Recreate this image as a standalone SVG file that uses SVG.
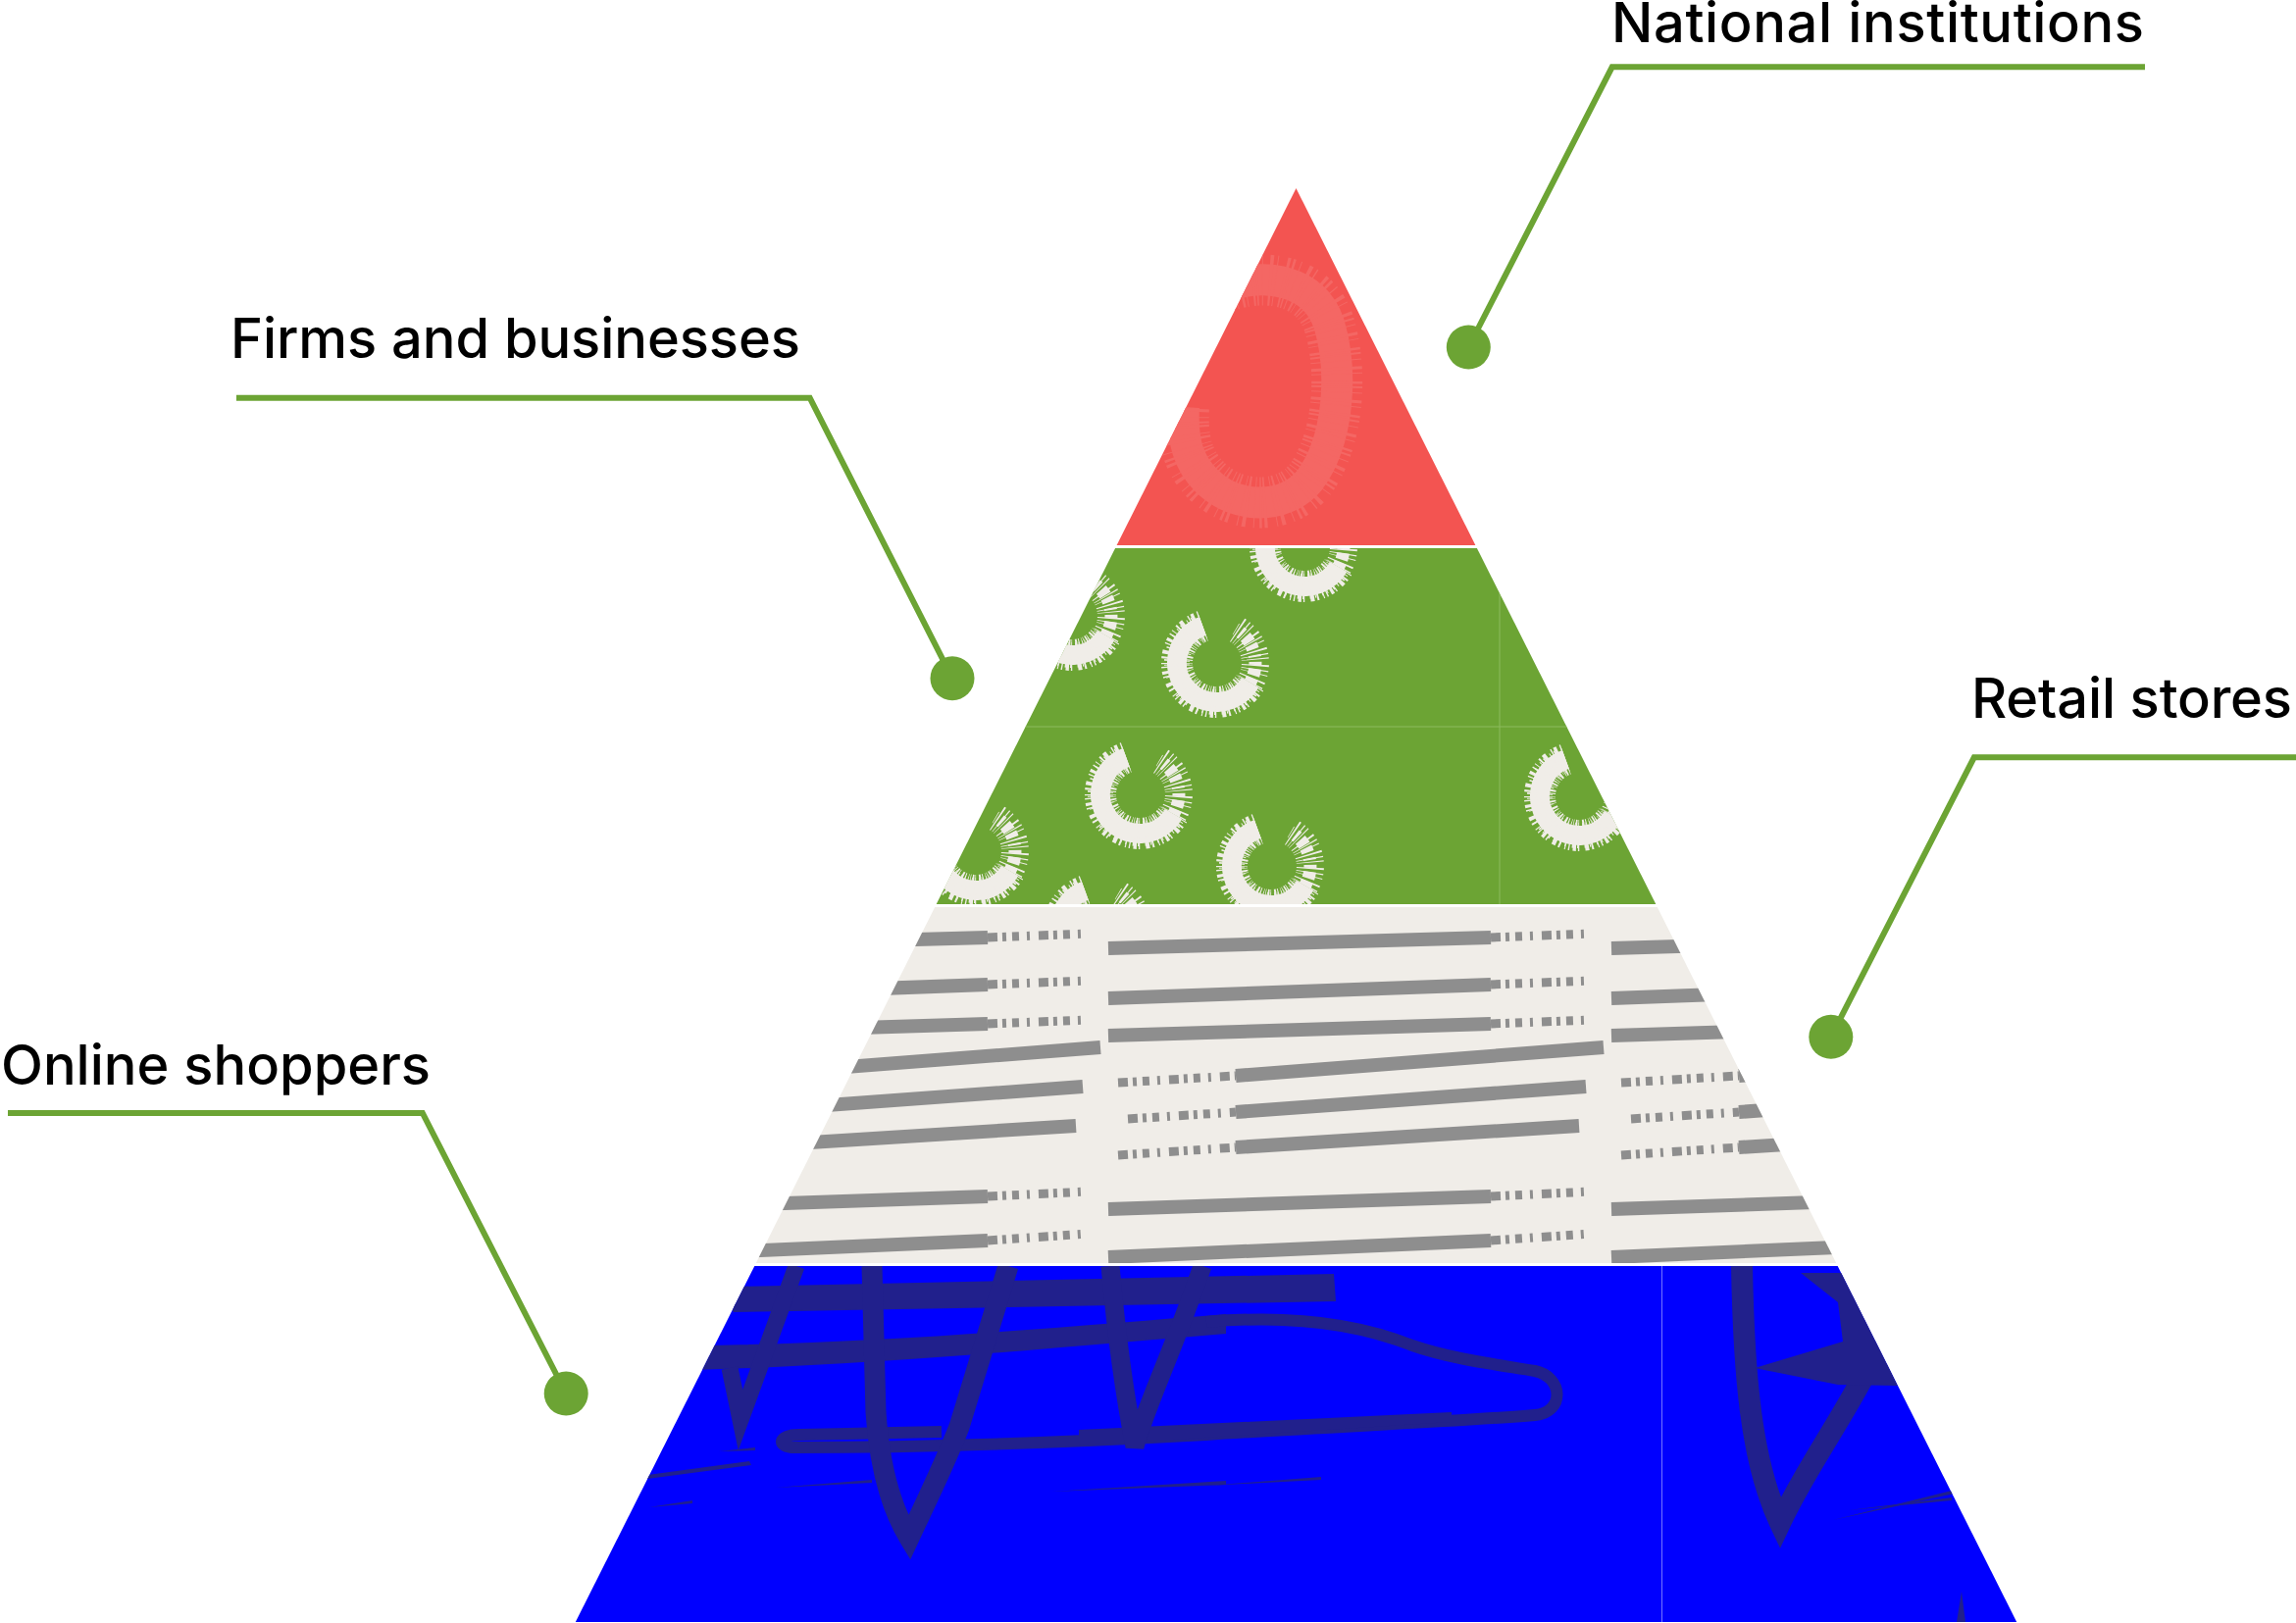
<svg xmlns="http://www.w3.org/2000/svg" xmlns:xlink="http://www.w3.org/1999/xlink" width="2341" height="1655" viewBox="0 0 2341 1655">
<style>
.lbl{font-family:Inter,"Liberation Sans",Arial,sans-serif;font-size:56px;font-weight:500;fill:#000}
.conn{fill:none;stroke:#6CA434;stroke-width:6;stroke-linejoin:miter}
.dot{fill:#6CA434}
.st{fill:none;stroke:#8E8E8E;stroke-width:14}
.sd{fill:none;stroke:#8E8E8E;stroke-width:9;stroke-dasharray:10 5 4 6 7 8 3 9}
.rg{fill:none;stroke:#F0EDE8}
.nv{fill:none;stroke:#21208C;stroke-linejoin:miter}
.nf{fill:#21208C}
</style>
<defs>
<clipPath id="c1"><polygon points="1321.5,192 1504.4,556 1138.6,556"/></clipPath>
<clipPath id="c2"><polygon points="1137.1,559 1505.9,559 1688.3,922 954.7,922"/></clipPath>
<clipPath id="c3"><polygon points="953.2,925 1689.8,925 1872.2,1288 770.8,1288"/></clipPath>
<clipPath id="c4"><polygon points="769.3,1291 1873.7,1291 2056.2,1654 586.8,1654"/></clipPath>
<g id="ring">
<path class="rg" stroke-width="20" d="M -13.7 -37.6 A 40 40 0 1 0 34.6 20"/>
<path class="rg" stroke-width="32" stroke-dasharray="1 2.5 2.5 1.5 1 4.5 3 2 1.5 3.5 0.8 2" d="M -13.7 -37.6 A 40 40 0 1 0 34.6 20"/>
<path class="rg" stroke-width="26" stroke-dasharray="0.8 5 1.2 3" d="M -13.7 -37.6 A 40 40 0 1 0 34.6 20"/>
<path class="rg" stroke-width="13" stroke-dasharray="5 3 7 4 3 5 2 6" d="M 34.6 20 A 40 40 0 0 0 20 -34.6"/>
<path class="rg" stroke-width="28" stroke-dasharray="1 3 1.5 5 0.8 2.5" d="M 34.6 20 A 40 40 0 0 0 20 -34.6"/>
</g>
<g id="tile">
<path class="st" d="M0,967 L390,956"/><path class="sd" d="M390,956 L493,952"/>
<path class="st" d="M0,1018 L390,1004"/><path class="sd" d="M390,1004 L493,1000"/>
<path class="st" d="M0,1056 L390,1044"/><path class="sd" d="M390,1044 L493,1040"/>
<path class="sd" d="M10,1104 L130,1097"/><path class="st" d="M130,1097 L505,1068"/>
<path class="sd" d="M20,1141 L130,1134"/><path class="st" d="M130,1134 L487,1108"/>
<path class="sd" d="M10,1178 L130,1170"/><path class="st" d="M130,1170 L480,1148"/>
<path class="st" d="M0,1233 L390,1220"/><path class="sd" d="M390,1220 L492,1215"/>
<path class="st" d="M0,1282 L390,1265"/><path class="sd" d="M390,1265 L492,1258"/>
</g>
</defs>
<rect width="2341" height="1655" fill="#FFFFFF"/>

<g id="tier-national">
<polygon points="1321.5,192 1504.4,556 1138.6,556" fill="#F35451"/>
<g clip-path="url(#c1)">
<path d="M1250,292 C1290,278 1340,285 1355,330 C1370,380 1365,450 1335,490 C1310,520 1260,520 1230,490 C1212,472 1205,450 1207,415" fill="none" stroke="#F46764" stroke-width="32"/>
<path d="M1250,292 C1290,278 1340,285 1355,330 C1370,380 1365,450 1335,490 C1310,520 1260,520 1230,490 C1212,472 1205,450 1207,415" fill="none" stroke="#F46764" stroke-width="52" stroke-dasharray="2 4 1 6 3 3 1 7 2.5 2"/>
</g>
</g>

<g id="tier-firms">
<polygon points="1137.1,559 1505.9,559 1688.3,922 954.7,922" fill="#6CA434"/>
<g clip-path="url(#c2)">
<use xlink:href="#ring" href="#ring" transform="translate(1330,558)"/>
<use xlink:href="#ring" href="#ring" transform="translate(1093,628)"/>
<use xlink:href="#ring" href="#ring" transform="translate(1240,676)"/>
<use xlink:href="#ring" href="#ring" transform="translate(1162,810)"/>
<use xlink:href="#ring" href="#ring" transform="translate(995,868)"/>
<use xlink:href="#ring" href="#ring" transform="translate(1296,883)"/>
<use xlink:href="#ring" href="#ring" transform="translate(1120,946)"/>
<use xlink:href="#ring" href="#ring" transform="translate(1610,812)"/>
<line x1="1529" y1="559" x2="1529" y2="922" stroke="#8DBB5F" stroke-width="1"/>
<line x1="900" y1="741" x2="1700" y2="741" stroke="#8DBB5F" stroke-width="1"/>
</g>
</g>

<g id="tier-retail">
<polygon points="953.2,925 1689.8,925 1872.2,1288 770.8,1288" fill="#F0EDE8"/>
<g clip-path="url(#c3)">
<use xlink:href="#tile" href="#tile" x="617"/>
<use xlink:href="#tile" href="#tile" x="1130"/>
<use xlink:href="#tile" href="#tile" x="1643"/>
</g>
</g>

<g id="tier-online">
<polygon points="769.3,1291 1873.7,1291 2056.2,1654 586.8,1654" fill="#0000FF"/>
<g clip-path="url(#c4)">
<path class="nf" d="M745,1312 L1360,1299 L1362,1327 L748,1338 L738,1326 Z"/>
<path class="nf" d="M706,1372 C900,1370 1100,1352 1250,1340 L1250,1360 C1100,1372 900,1392 706,1397 Z"/>
<path class="nv" stroke-width="12" d="M1230,1348 C1320,1340 1390,1352 1440,1372 C1480,1386 1530,1392 1565,1398 C1594,1404 1596,1440 1565,1443 C1480,1450 1350,1455 1230,1463 C1050,1473 900,1476 810,1476 C792,1476 792,1463 815,1463 L960,1460"/>
<path class="nf" d="M1100,1458 L1480,1440 L1480,1450 L1100,1474 Z"/>
<path class="nv" stroke-width="17" d="M812,1291 L755,1448 L744,1395"/>
<path class="nv" stroke-width="21" d="M889,1291 L893,1440 C897,1500 910,1540 927,1568 C940,1540 960,1500 978,1455 L1028,1291"/>
<path class="nv" stroke-width="19" d="M1132,1291 C1140,1380 1148,1430 1157,1475 C1170,1430 1195,1380 1226,1291"/>
<path class="nv" stroke-width="22" d="M1776,1291 C1778,1400 1785,1490 1815,1553 C1840,1500 1870,1460 1902,1400"/>
<path class="nf" d="M1836,1298 L1880,1298 L1935,1413 L1874,1412 L1789,1395 L1879,1368 L1874,1328 Z"/>
<g class="nf">
<path d="M653,1505 L764,1490 L766,1494 L660,1508 Z"/>
<path d="M733,1480 L770,1476 L770,1479 Z"/>
<path d="M791,1517 L889,1509 L889,1512 Z"/>
<path d="M1072,1521 L1250,1510 L1250,1514 Z"/>
<path d="M662,1537 L706,1530 L706,1533 Z"/>
<path d="M1230,1515 L1347,1506 L1347,1509 Z"/>
<path d="M1869,1550 L2002,1517 L2002,1521 Z"/>
<path d="M1885,1540 L1990,1527 L1990,1530 Z"/>
<path d="M700,1330 L750,1328 L750,1333 Z"/>
<path d="M1995,1654 L2000,1623 L2004,1654 Z"/>
</g>
<line x1="1694.5" y1="1291" x2="1694.5" y2="1654" stroke="#7474FF" stroke-width="1"/>
</g>
</g>

<g id="connectors">
<polyline class="conn" points="2187,68.3 1643.7,68.3 1497.3,354"/>
<polyline class="conn" points="241,405.7 825.7,405.7 971,691.7"/>
<polyline class="conn" points="2341,772.3 2012.8,772.3 1866.8,1057.3"/>
<polyline class="conn" points="8,1135 430.8,1135 577.2,1421"/>
</g>

<g id="label-national"><text class="lbl" x="1643" y="43" font-size="52" textLength="543" lengthAdjust="spacing">National institutions</text><circle class="dot" cx="1497.3" cy="354" r="22.5"/></g>
<g id="label-firms"><text class="lbl" x="235" y="365" textLength="581" lengthAdjust="spacing">Firms and businesses</text><circle class="dot" cx="971" cy="691.7" r="22.5"/></g>
<g id="label-retail"><text class="lbl" x="2010" y="732" textLength="327" lengthAdjust="spacing">Retail stores</text><circle class="dot" cx="1866.8" cy="1057.3" r="22.5"/></g>
<g id="label-online"><text class="lbl" x="1" y="1106" textLength="438" lengthAdjust="spacing">Online shoppers</text><circle class="dot" cx="577.2" cy="1421" r="22.5"/></g>
</svg>
